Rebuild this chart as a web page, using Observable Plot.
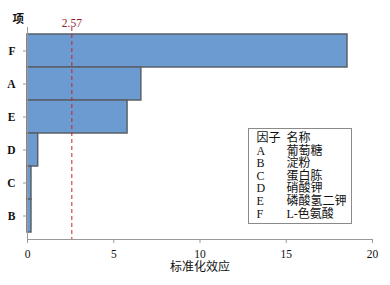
<!DOCTYPE html>
<html>
<head>
<meta charset="utf-8">
<script src="https://cdn.jsdelivr.net/npm/d3@7"></script>
<script src="https://cdn.jsdelivr.net/npm/@observablehq/plot@0.6"></script>
<style>
  html, body { margin: 0; padding: 0; background: #fff; }
  #wrap { position: relative; width: 390px; height: 285px; font-family: "Liberation Serif", "Noto Sans CJK SC", serif; }
  #legend { position: absolute; left: 248px; top: 128px; width: 102px; height: 91px; border: 1px solid #8a8a8a; background: #fff; font-size: 12px; color: #111; box-sizing: content-box; padding-top: 3px; }
  #legend .row { position: relative; height: 12.6px; line-height: 12.6px; white-space: nowrap; }
  #legend .c { position: absolute; left: 7.5px; top: 0; }
  #legend .n { position: absolute; left: 37.5px; top: 0; }
</style>
</head>
<body>
<div id="wrap"></div>
<script>
const factors = ["F", "A", "E", "D", "C", "B"];
const effects = [18.55, 6.6, 5.8, 0.62, 0.23, 0.23];
const threshold = 2.57;
const xTicks = [0, 5, 10, 15, 20];
const yTitle = "项";
const xTitle = "标准化效应";
const legendHeader = ["因子", "名称"];
const legendCodes = ["A", "B", "C", "D", "E", "F"];
const legendNames = ["葡萄糖", "淀粉", "蛋白胨", "硝酸钾", "磷酸氢二钾", "L-色氨酸"];

const data = factors.map((f, i) => ({factor: f, effect: effects[i]}));
const font = '"Liberation Serif", "Noto Sans CJK SC", serif';

const chart = Plot.plot({
  width: 390,
  height: 285,
  marginLeft: 27,
  marginRight: 18,
  marginTop: 27,
  marginBottom: 46,
  style: {fontFamily: font, fontSize: "11px", color: "#111", background: "#fff"},
  x: {domain: [0, 20], ticks: xTicks},
  y: {domain: factors, range: [34, 232], padding: 0},
  marks: [
    Plot.barX(data, {x: "effect", y: "factor", fill: "#6b9bd0", stroke: "#5a6068", strokeWidth: 1.5}),
    Plot.ruleX([threshold], {stroke: "#c0262a", strokeWidth: 1, strokeDasharray: "4,3"}),
    Plot.text([threshold], {x: d => d, frameAnchor: "top", dy: -9, text: d => String(d), fill: "#8b1f2a", fontSize: 11.5}),
    Plot.frame({anchor: "left", stroke: "#999"}),
    Plot.frame({anchor: "bottom", stroke: "#999"}),
    Plot.axisX({ticks: xTicks, tickSize: 4, tickPadding: 6, stroke: "#999", label: null, fill: "#111", fontSize: 11.5}),
    Plot.axisY({tickSize: 4, tickPadding: 8, stroke: "#999", label: null, fill: "#111", fontSize: 11.5, fontWeight: "bold"}),
    Plot.text([yTitle], {frameAnchor: "top-left", dx: -15, dy: -13, text: d => d, fontSize: 11.5, fontWeight: "bold"}),
    Plot.text([xTitle], {frameAnchor: "bottom", dy: 31, text: d => d, fontSize: 12})
  ]
});

const wrap = document.getElementById("wrap");
wrap.appendChild(chart);

const legend = document.createElement("div");
legend.id = "legend";
const rows = [legendHeader].concat(legendCodes.map((c, i) => [c, legendNames[i]]));
legend.innerHTML = rows.map(r => "<div class='row'><span class='c'>" + r[0] + "</span><span class='n'>" + r[1] + "</span></div>").join("");
wrap.appendChild(legend);
</script>
</body>
</html>
